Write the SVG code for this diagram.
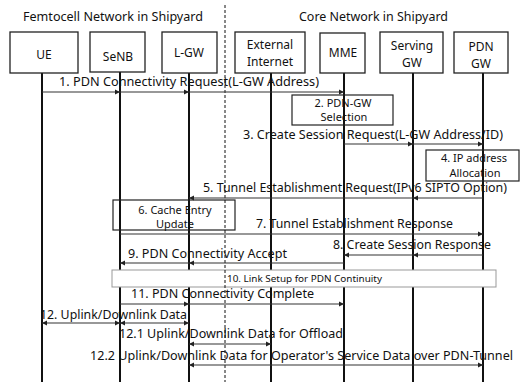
<svg xmlns="http://www.w3.org/2000/svg" width="526" height="382" viewBox="0 0 526 382">
<defs>
<style>
text{font-family:"Noto Sans","DejaVu Sans",sans-serif;fill:#111;}
.t{font-size:12px;}
.s{font-size:11px;}
.xs{font-size:9.5px;}
.ttl{font-size:12.5px;}
.node rect{fill:#fff;stroke:#222;stroke-width:1.3;}
.life{stroke:#111;stroke-width:2;}
.box{fill:none;stroke:#222;stroke-width:1.2;}
.msg line{stroke:#333;stroke-width:1.2;}
.a{marker-end:url(#ah);}
.d{marker-end:url(#ah);marker-start:url(#as);}
</style>
<marker id="ah" markerUnits="userSpaceOnUse" markerWidth="6" markerHeight="6" refX="5" refY="3" orient="auto"><path d="M0,0.5 L5,3 L0,5.5 z" fill="#222"/></marker>
<marker id="as" markerUnits="userSpaceOnUse" markerWidth="6" markerHeight="6" refX="0" refY="3" orient="auto"><path d="M5,0.5 L0,3 L5,5.5 z" fill="#222"/></marker>
</defs>
<rect width="526" height="382" fill="#fff"/>
<text class="ttl" x="23" y="21" textLength="180" lengthAdjust="spacingAndGlyphs">Femtocell Network in Shipyard</text>
<text class="ttl" x="299" y="21" textLength="149" lengthAdjust="spacingAndGlyphs">Core Network in Shipyard</text>
<g id="lifelines">
<line class="life" x1="42" y1="72" x2="42" y2="382"/>
<line class="life" x1="120" y1="72" x2="120" y2="382"/>
<line class="life" x1="189" y1="72" x2="189" y2="382"/>
<line class="life" x1="271" y1="72" x2="271" y2="382"/>
<line class="life" x1="344" y1="72" x2="344" y2="382"/>
<line class="life" x1="413" y1="72" x2="413" y2="382"/>
<line class="life" x1="483" y1="72" x2="483" y2="382"/>
</g>
<g id="UE" class="node"><rect x="10" y="32" width="68" height="41"/><text class="t" x="44" y="59" text-anchor="middle">UE</text></g>
<g id="SeNB" class="node"><rect x="90" y="32" width="55" height="40"/><text class="t" x="118" y="61" text-anchor="middle">SeNB</text></g>
<g id="LGW" class="node"><rect x="162" y="32" width="55" height="41"/><text class="t" x="189" y="57" text-anchor="middle">L-GW</text></g>
<g id="ExternalInternet" class="node"><rect x="235" y="32" width="70" height="41"/><text class="t" x="270" y="49" text-anchor="middle">External</text><text class="t" x="270" y="66" text-anchor="middle">Internet</text></g>
<g id="MME" class="node"><rect x="320" y="33" width="45" height="40"/><text class="t" x="343" y="57" text-anchor="middle">MME</text></g>
<g id="ServingGW" class="node"><rect x="380" y="32" width="63" height="41"/><text class="t" x="412" y="50" text-anchor="middle">Serving</text><text class="t" x="412" y="67" text-anchor="middle">GW</text></g>
<g id="PDNGW" class="node"><rect x="454" y="32" width="54" height="41"/><text class="t" x="481" y="51" text-anchor="middle">PDN</text><text class="t" x="481" y="68" text-anchor="middle">GW</text></g>
<g id="step2"><rect class="box" x="292" y="95" width="101" height="30"/><text class="s" x="343" y="107" text-anchor="middle">2. PDN-GW</text><text class="s" x="344" y="121" text-anchor="middle">Selection</text></g>
<g id="step4"><rect class="box" x="426" y="150" width="93" height="31"/><text class="s" x="474" y="162" text-anchor="middle">4. IP address</text><text class="s" x="475" y="177" text-anchor="middle">Allocation</text></g>
<g id="step6"><rect class="box" x="113" y="200" width="122" height="30"/><text class="s" x="175" y="214" text-anchor="middle">6. Cache Entry</text><text class="s" x="175" y="228" text-anchor="middle">Update</text></g>
<g id="step10"><rect x="112" y="270" width="384" height="17" fill="#fff" stroke="#999" stroke-width="1"/><text class="xs" x="227" y="281.5" textLength="155" lengthAdjust="spacingAndGlyphs">10. Link Setup for PDN Continuity</text></g>
<line x1="225" y1="5" x2="225" y2="382" stroke="#111" stroke-width="1" stroke-dasharray="3,2"/>
<g id="connectors" class="msg">
<line class="a" x1="42" y1="92" x2="120" y2="92"/>
<line class="a" x1="120" y1="92" x2="189" y2="92"/>
<line class="a" x1="189" y1="92" x2="344" y2="92"/>
<line class="a" x1="344" y1="144" x2="413" y2="144"/>
<line class="a" x1="413" y1="144" x2="483" y2="144"/>
<line class="a" x1="483" y1="198" x2="413" y2="198"/>
<line class="a" x1="413" y1="198" x2="189" y2="198"/>
<line class="a" x1="120" y1="234" x2="483" y2="234"/>
<line class="a" x1="483" y1="255" x2="413" y2="255"/>
<line class="a" x1="413" y1="255" x2="344" y2="255"/>
<line class="a" x1="344" y1="263" x2="189" y2="263"/>
<line class="a" x1="189" y1="263" x2="120" y2="263"/>
<line class="a" x1="120" y1="304" x2="189" y2="304"/>
<line class="a" x1="189" y1="304" x2="344" y2="304"/>
<line class="d" x1="42" y1="323" x2="120" y2="323"/>
<line class="d" x1="120" y1="323" x2="189" y2="323"/>
<line class="d" x1="189" y1="344" x2="271" y2="344"/>
<line class="d" x1="189" y1="365" x2="483" y2="365"/>
</g>
<g id="labels">
<text class="t" x="59" y="86" textLength="260" lengthAdjust="spacingAndGlyphs">1. PDN Connectivity Request(L-GW Address)</text>
<text class="t" x="243" y="139" textLength="260" lengthAdjust="spacingAndGlyphs">3. Create Session Request(L-GW Address/ID)</text>
<text class="t" x="203" y="192" textLength="304" lengthAdjust="spacingAndGlyphs">5. Tunnel Establishment Request(IPv6 SIPTO Option)</text>
<text class="t" x="256" y="228" textLength="197" lengthAdjust="spacingAndGlyphs">7. Tunnel Establishment Response</text>
<text class="t" x="333" y="249" textLength="158" lengthAdjust="spacingAndGlyphs">8. Create Session Response</text>
<text class="t" x="128" y="258" textLength="159" lengthAdjust="spacingAndGlyphs">9. PDN Connectivity Accept</text>
<text class="t" x="131" y="298" textLength="183" lengthAdjust="spacingAndGlyphs">11. PDN Connectivity Complete</text>
<text class="t" x="40" y="319" textLength="147" lengthAdjust="spacingAndGlyphs">12. Uplink/Downlink Data</text>
<text class="t" x="119" y="338" textLength="224" lengthAdjust="spacingAndGlyphs">12.1 Uplink/Downlink Data for Offload</text>
<text class="t" x="90" y="360" textLength="423" lengthAdjust="spacingAndGlyphs">12.2 Uplink/Downlink Data for Operator's Service Data over PDN-Tunnel</text>
</g>
</svg>
